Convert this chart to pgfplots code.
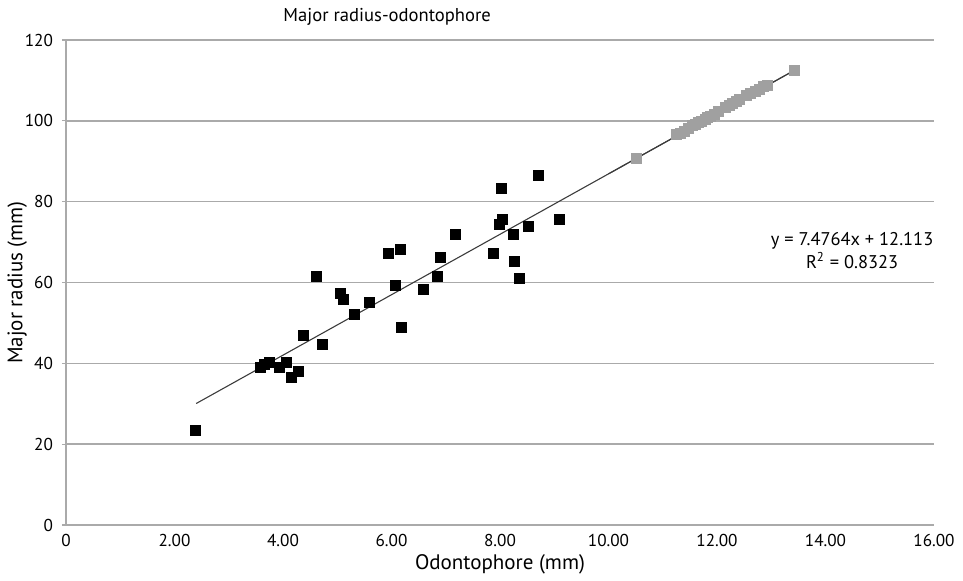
\documentclass[border=0pt]{standalone}
\usepackage{pgfplots}
\pgfplotsset{compat=1.18}
\usepackage{fontspec}
\setmainfont{PT Sans}
\definecolor{gridgray}{RGB}{170,170,170}
\definecolor{ptgray}{RGB}{160,160,160}
\definecolor{linegray}{RGB}{60,60,60}
\begin{document}
\begin{tikzpicture}
\path[use as bounding box] (-33pt,-27.5pt) rectangle (448.5pt,262.5pt);
\begin{axis}[
  at={(0,0)}, anchor=south west,
  scale only axis, width=434pt, height=242.5pt,
  xmin=0, xmax=16, ymin=0, ymax=120,
  axis lines=left, axis line style={-, draw=gridgray, line width=0.6pt},
  xtick={0,2,4,6,8,10,12,14,16},
  xticklabels={0,2.00,4.00,6.00,8.00,10.00,12.00,14.00,16.00},
  ytick={0,20,40,60,80,100,120},
  yticklabels={0,20,40,60,80,100,120},
  xtick style={draw=none},
  ytick style={draw=gridgray, line width=0.6pt},
  tick align=outside, major tick length=2pt,
  ymajorgrids, grid style={draw=gridgray, line width=0.7pt},
  ticklabel style={font=\fontsize{8.6}{10}\selectfont, text=black},
  xticklabel style={yshift=1pt},
  yticklabel style={xshift=-1pt},
  xlabel={Odontophore (mm)}, ylabel={Major radius (mm)},
  label style={font=\fontsize{10.5}{12}\selectfont},
  xlabel style={yshift=3pt},
  ylabel style={yshift=-8pt},
  clip=false,
]
% trend line
\addplot[linegray, line width=0.55pt] coordinates {(2.4,30.06) (13.42,112.45)};
% black points
\addplot[only marks, mark=square*, mark size=2.5pt, mark options={draw=black, fill=black}] coordinates {
(2.38,23.5) (3.58,39.0) (3.65,39.8) (3.75,40.2) (3.93,38.9) (4.07,40.3) (4.15,36.6) (4.29,37.9)
(4.38,47.0) (4.61,61.4) (4.72,44.6) (5.05,57.4) (5.11,55.9) (5.31,52.2) (5.59,55.0)
(5.94,67.1) (6.16,68.3) (6.08,59.4) (6.18,48.8) (6.58,58.2) (6.84,61.4) (6.91,66.3) (7.17,71.8)
(7.87,67.1) (7.98,74.5) (8.04,75.7) (8.02,83.2) (8.24,71.8) (8.26,65.1) (8.35,61.1) (8.53,74.0)
(8.70,86.4) (9.09,75.7)
};
% gray points
\addplot[only marks, mark=square*, mark size=2.5pt, mark options={draw=ptgray, fill=ptgray}] coordinates {
(10.51,90.8) (11.25,96.6) (11.32,97.0) (11.40,97.4) (11.48,98.2) (11.55,98.8) (11.60,99.0)
(11.66,99.5) (11.72,99.9) (11.78,100.4) (11.83,100.8) (11.88,101.1) (11.95,101.7) (12.02,102.3)
(12.15,103.4) (12.22,103.8) (12.28,104.3) (12.35,104.8) (12.42,105.2) (12.55,106.2) (12.62,106.8)
(12.70,107.4) (12.78,107.8) (12.86,108.5) (12.92,108.8) (13.42,112.6)
};
\addplot[linegray, line width=0.55pt, forget plot] coordinates {(10.0,86.88) (13.42,112.45)};
\node[align=center, font=\fontsize{9.2}{11.5}\selectfont] at (axis cs:14.49,67.8)
  {y = 7.4764x + 12.113\\R\textsuperscript{2} = 0.8323};
\node[font=\fontsize{9.3}{10}\selectfont] at (rel axis cs:0.37,1.047) {Major radius-odontophore};
\end{axis}
\end{tikzpicture}
\end{document}
